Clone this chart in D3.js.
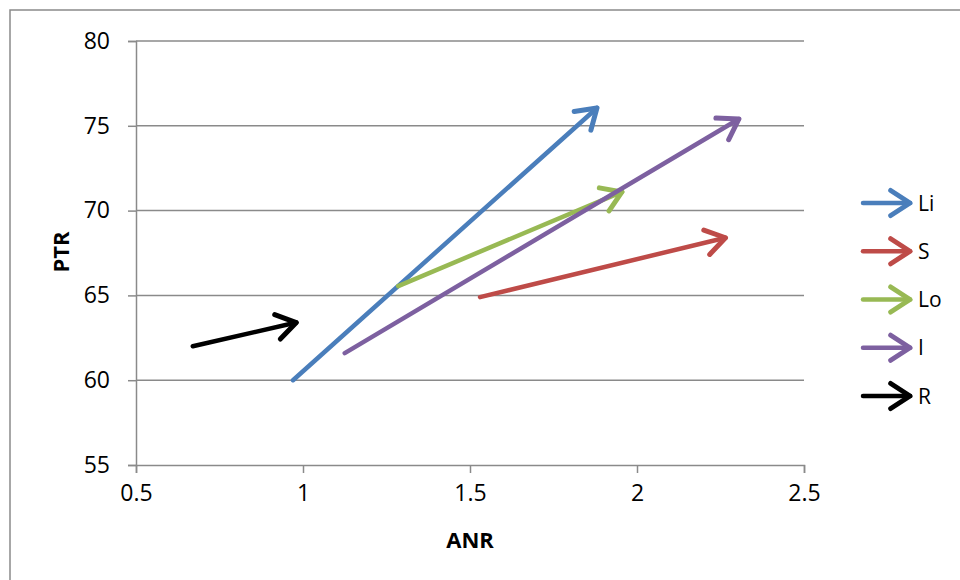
<!DOCTYPE html>
<html>
<head>
<meta charset="utf-8">
<script src="https://cdn.jsdelivr.net/npm/d3@7"></script>
<style>
  html, body { margin: 0; padding: 0; background: #fff; }
  svg { display: block; }
  text { font-family: "Open Sans", "Noto Sans", sans-serif; fill: #000; }
</style>
</head>
<body>
<svg id="chart" width="960" height="580"></svg>
<script>
// ---- data ----
const series = ["Li", "S", "Lo", "I", "R"];
const startANR = [0.97, 1.53, 1.285, 1.125, 0.67];
const startPTR = [60.0, 64.9, 65.55, 61.6, 62.0];
const endANR   = [1.88, 2.265, 1.955, 2.305, 0.98];
const endPTR   = [76.05, 68.4, 71.1, 75.4, 63.4];
const colors   = ["#4a7ebb", "#be4b48", "#98b954", "#7d60a0", "#000000"];
const xTicks = [0.5, 1, 1.5, 2, 2.5];
const yTicks = [55, 60, 65, 70, 75, 80];
const xTitle = "ANR";
const yTitle = "PTR";

const svg = d3.select("#chart");
const W = 960, H = 580;
const plot = { left: 136, right: 804, top: 41, bottom: 465 };

// outer chart border
svg.append("rect")
  .attr("x", 10).attr("y", 10)
  .attr("width", W).attr("height", H)
  .attr("fill", "none").attr("stroke", "#8a8a8a").attr("stroke-width", 1.5);

const x = d3.scaleLinear().domain([0.5, 2.5]).range([plot.left, plot.right]);
const y = d3.scaleLinear().domain([55, 80]).range([plot.bottom, plot.top]);

const gridColor = "#8a8a8a";

// horizontal gridlines
svg.append("g").selectAll("line").data(yTicks.filter(v => v !== 55)).join("line")
  .attr("x1", plot.left).attr("x2", plot.right)
  .attr("y1", d => y(d)).attr("y2", d => y(d))
  .attr("stroke", gridColor).attr("stroke-width", 1.5);

// y axis
const yAxis = d3.axisLeft(y).tickValues(yTicks).tickSize(8).tickPadding(18)
  .tickFormat(d3.format("d"));
const gy = svg.append("g").attr("transform", `translate(${plot.left},0)`).call(yAxis);
gy.select(".domain").attr("stroke", gridColor).attr("stroke-width", 1.5);
gy.selectAll(".tick line").attr("stroke", gridColor).attr("stroke-width", 1.5);
gy.selectAll(".tick text").attr("font-size", 23).attr("font-family", "Open Sans, sans-serif").attr("fill", "#000");

// x axis
const xAxis = d3.axisBottom(x).tickValues(xTicks).tickSize(8).tickPadding(12)
  .tickFormat(d => String(d));
const gx = svg.append("g").attr("transform", `translate(0,${plot.bottom})`).call(xAxis);
gx.select(".domain").attr("stroke", gridColor).attr("stroke-width", 1.5);
gx.selectAll(".tick line").attr("stroke", gridColor).attr("stroke-width", 1.5);
gx.selectAll(".tick text").attr("font-size", 23).attr("font-family", "Open Sans, sans-serif").attr("fill", "#000");

// axis titles
svg.append("text")
  .attr("x", (plot.left + plot.right) / 2).attr("y", 548)
  .attr("text-anchor", "middle").attr("font-size", 22).attr("font-weight", "bold")
  .text(xTitle);
svg.append("text")
  .attr("transform", `translate(69,252) rotate(-90)`)
  .attr("text-anchor", "middle").attr("font-size", 22).attr("font-weight", "bold")
  .text(yTitle);

// arrow head path (open chevron) with tip at (x2,y2)
function chevron(g, x2, y2, angle, color) {
  const L = 23, A = 33 * Math.PI / 180;
  const p1 = [x2 - L * Math.cos(angle - A), y2 - L * Math.sin(angle - A)];
  const p2 = [x2 - L * Math.cos(angle + A), y2 - L * Math.sin(angle + A)];
  g.append("path")
    .attr("d", `M${p1[0]},${p1[1]}L${x2},${y2}L${p2[0]},${p2[1]}`)
    .attr("fill", "none").attr("stroke", color).attr("stroke-width", 5)
    .attr("stroke-linecap", "round").attr("stroke-linejoin", "round");
}

// arrows
const data = series.map((s, i) => ({
  name: s, x0: startANR[i], y0: startPTR[i], x1: endANR[i], y1: endPTR[i], color: colors[i]
}));
const arrows = svg.append("g");
data.forEach(d => {
  const ax = x(d.x0), ay = y(d.y0), bx = x(d.x1), by = y(d.y1);
  const g = arrows.append("g");
  g.append("line")
    .attr("x1", ax).attr("y1", ay).attr("x2", bx).attr("y2", by)
    .attr("stroke", d.color).attr("stroke-width", 4.5).attr("stroke-linecap", "round");
  chevron(g, bx, by, Math.atan2(by - ay, bx - ax), d.color);
});

// legend
const legend = svg.append("g");
const legY = d3.scalePoint().domain(series).range([203, 396]);
data.forEach(d => {
  const g = legend.append("g");
  const yy = legY(d.name);
  g.append("line")
    .attr("x1", 863).attr("y1", yy).attr("x2", 910).attr("y2", yy)
    .attr("stroke", d.color).attr("stroke-width", 4.5).attr("stroke-linecap", "round");
  chevron(g, 910, yy, 0, d.color);
  g.append("text")
    .attr("x", 918).attr("y", yy).attr("dy", "0.36em")
    .attr("font-size", 21).text(d.name);
});
</script>
</body>
</html>
